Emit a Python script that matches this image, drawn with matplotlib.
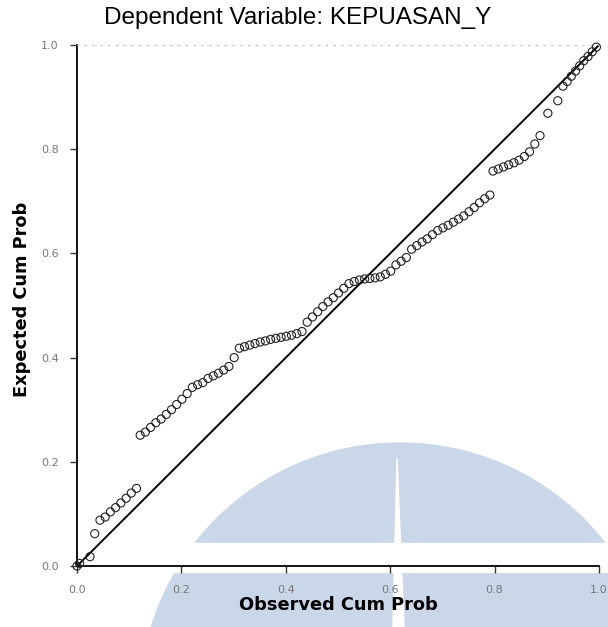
import matplotlib.pyplot as plt
from matplotlib.patches import Circle, Rectangle, Polygon

# observed cum prob (x) and expected cum prob (y)
obs_cum = [0.0, 0.005, 0.025, 0.034,
           0.044, 0.054, 0.064, 0.074, 0.084, 0.094, 0.104, 0.114,
           0.121, 0.131, 0.141, 0.151, 0.161, 0.171, 0.181, 0.191, 0.201, 0.211,
           0.221, 0.231, 0.241, 0.251, 0.261, 0.271, 0.281, 0.291, 0.301, 0.311,
           0.321, 0.331, 0.341, 0.351, 0.361, 0.371, 0.381, 0.391, 0.401, 0.411, 0.421, 0.431,
           0.441, 0.451, 0.461, 0.471, 0.481, 0.491, 0.501, 0.511, 0.521,
           0.531, 0.541, 0.551, 0.561, 0.571, 0.581, 0.591, 0.601,
           0.611, 0.621, 0.631, 0.641, 0.651, 0.661, 0.671, 0.681, 0.691,
           0.701, 0.711, 0.721, 0.731, 0.741, 0.751, 0.761, 0.771, 0.781, 0.791,
           0.797, 0.807, 0.817, 0.827, 0.837, 0.847, 0.857, 0.867, 0.877, 0.887,
           0.902, 0.921,
           0.931, 0.939, 0.947, 0.955, 0.963, 0.971, 0.979, 0.987, 0.995]
exp_cum = [0.0, 0.005, 0.018, 0.062,
           0.088, 0.094, 0.104, 0.112, 0.121, 0.130, 0.140, 0.149,
           0.251, 0.257, 0.266, 0.275, 0.282, 0.291, 0.300, 0.310, 0.320, 0.331,
           0.343, 0.348, 0.352, 0.360, 0.365, 0.370, 0.376, 0.383, 0.400, 0.418,
           0.421, 0.424, 0.427, 0.430, 0.432, 0.435, 0.437, 0.439, 0.441, 0.443, 0.446, 0.450,
           0.468, 0.478, 0.488, 0.498, 0.507, 0.515, 0.524, 0.533, 0.542,
           0.546, 0.549, 0.551, 0.552, 0.553, 0.555, 0.560, 0.566,
           0.578, 0.585, 0.592, 0.608, 0.615, 0.622, 0.628, 0.636, 0.644,
           0.649, 0.654, 0.660, 0.666, 0.672, 0.680, 0.688, 0.697, 0.705, 0.712,
           0.758, 0.762, 0.766, 0.770, 0.774, 0.779, 0.786, 0.795, 0.810, 0.826,
           0.869, 0.893,
           0.921, 0.930, 0.940, 0.950, 0.960, 0.970, 0.978, 0.987, 0.996]
ticks = [0.0, 0.2, 0.4, 0.6, 0.8, 1.0]
tick_labels = ['0.0', '0.2', '0.4', '0.6', '0.8', '1.0']

W, H = 608, 627
fig = plt.figure(figsize=(W / 100, H / 100), dpi=100)


def fp(x, y):
    # pixel coords -> figure fraction
    return (x / W, 1 - y / H)


# faint watermark behind the chart
wm = '#c9d7e9'
circ = Circle((4.00, (H - 703) / 100), 2.60, transform=fig.dpi_scale_trans,
              color=wm, zorder=0)
fig.patches.append(circ)
fig.patches.append(Rectangle(fp(0, 572), 1, 29 / H, transform=fig.transFigure,
                             color='white', zorder=0.2))
fig.patches.append(Polygon([fp(397, 458), fp(393, 627), fp(404, 627)], closed=True,
                           transform=fig.transFigure, color='white', zorder=0.2))

ax = fig.add_axes([77 / W, 1 - 566 / H, 522 / W, 521 / H])
ax.set_zorder(1)
ax.patch.set_alpha(0)

ax.plot([0, 1], [0, 1], color='black', lw=1.4, zorder=2)
ax.scatter(obs_cum, exp_cum, s=34, facecolors='none', edgecolors='#222222',
           linewidths=0.8, zorder=3, clip_on=False)

ax.set_xlim(0, 1)
ax.set_ylim(0, 1)
ax.set_xticks(ticks)
ax.set_xticklabels(tick_labels)
ax.set_yticks(ticks)
ax.set_yticklabels(tick_labels)
ax.tick_params(axis='both', direction='out', length=5, width=1, color='#333333',
               labelsize=8, labelcolor='#777777')
ax.tick_params(axis='x', pad=9)
ax.tick_params(axis='y', pad=8)

ax.spines['right'].set_visible(False)
ax.spines['top'].set_linestyle((0, (1, 6)))
ax.spines['top'].set_color('#bbbbbb')
ax.spines['left'].set_linewidth(1.3)
ax.spines['bottom'].set_linewidth(1.3)

fig.text(298 / W, 1 - 18 / H, 'Dependent Variable: KEPUASAN_Y', ha='center', va='center',
         fontsize=17.5, family='Liberation Sans')
fig.text(338 / W, 1 - 605 / H, 'Observed Cum Prob', ha='center', va='center',
         fontsize=12.8, fontweight='bold', family='DejaVu Sans')
fig.text(22 / W, 1 - 299 / H, 'Expected Cum Prob', ha='center', va='center',
         rotation=90, fontsize=12.8, fontweight='bold', family='DejaVu Sans')

fig.savefig('out.png', dpi=100)
